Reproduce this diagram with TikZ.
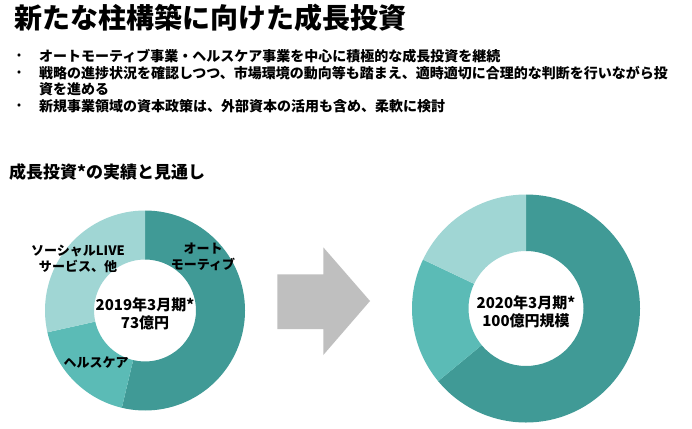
\documentclass[tikz,border=0pt]{standalone}
\usepackage{fontspec}
\setmainfont{Noto Sans CJK JP}
\newfontfamily\jp{Noto Sans CJK JP}
\definecolor{tealdark}{HTML}{409A96}
\definecolor{tealmid}{HTML}{5BBBB6}
\definecolor{teallight}{HTML}{A0D6D4}
\definecolor{arrowgray}{HTML}{BFBFBF}
\tikzset{
  bodytxt/.style={anchor=west,inner sep=0pt,font=\jp\fontsize{14}{16}\selectfont\bfseries},
  bulletdot/.style={anchor=center,inner sep=0pt,font=\jp\fontsize{10}{12}\selectfont\bfseries},
  lbl/.style={align=center,inner sep=0pt,font=\jp\fontsize{13}{16}\selectfont\bfseries},
  ctr/.style={align=center,inner sep=0pt,font=\jp\fontsize{15}{18}\selectfont\bfseries},
}
\usetikzlibrary{calc}
\begin{document}
\begin{tikzpicture}[x=1pt,y=1pt]
\useasboundingbox[fill=white] (0,0) rectangle (692,-428);
% title
\node[anchor=west,inner sep=0pt,font=\jp\fontsize{28}{32}\selectfont\bfseries] (title) at (14,-18) {新たな柱構築に向けた成長投資};
% bullets
\node[bulletdot] (b1) at (19,-56) {•};
\node[bodytxt] (t1) at (39,-56) {オートモーティブ事業・ヘルスケア事業を中心に積極的な成長投資を継続};
\node[bulletdot] (b2) at (19,-73) {•};
\node[bodytxt] (t2) at (39,-73) {戦略の進捗状況を確認しつつ、市場環境の動向等も踏まえ、適時適切に合理的な判断を行いながら投};
\node[bodytxt] (t3) at (39,-89.5) {資を進める};
\node[bulletdot] (b3) at (19,-106) {•};
\node[bodytxt] (t4) at (39,-106) {新規事業領域の資本政策は、外部資本の活用も含め、柔軟に検討};
% subtitle
\node[anchor=west,inner sep=0pt,font=\jp\fontsize{17}{20}\selectfont\bfseries] (sub) at (9,-172) {成長投資*の実績と見通し};
% left donut
\fill[tealdark] (145,-310.5) ++(90:100pt) arc[start angle=90,end angle=-103.4,radius=100pt]
  -- ($(145,-310.5)+(-103.4:51pt)$) arc[start angle=-103.4,end angle=90,radius=51pt] -- cycle;
\fill[tealmid] (145,-310.5) ++(-103.4:100pt) arc[start angle=-103.4,end angle=-167.4,radius=100pt]
  -- ($(145,-310.5)+(-167.4:51pt)$) arc[start angle=-167.4,end angle=-103.4,radius=51pt] -- cycle;
\fill[teallight] (145,-310.5) ++(-167.4:100pt) arc[start angle=-167.4,end angle=-270,radius=100pt]
  -- ($(145,-310.5)+(-270:51pt)$) arc[start angle=-270,end angle=-167.4,radius=51pt] -- cycle;
\node[lbl] (lsoc) at (78,-259) {ソーシャルLIVE\\サービス、他};
\node[lbl] (lauto) at (203,-256.5) {オート\\モーティブ};
\node[lbl] (lhealth) at (96,-363) {ヘルスケア};
\node[ctr] (lctr) at (145,-314) {2019年3月期*\\73億円};
% arrow
\node[coordinate] (arrtip) at (370,-301) {};
\fill[arrowgray] (277.3,-274.3) -- (323.3,-274.3) -- (323.3,-247.3) -- (arrtip) -- (323.3,-355) -- (323.3,-329) -- (277.3,-329) -- cycle;
% right donut
\fill[tealdark] (526,-308.5) ++(90:114pt) arc[start angle=90,end angle=-140.4,radius=114pt]
  -- ($(526,-308.5)+(-140.4:57.5pt)$) arc[start angle=-140.4,end angle=90,radius=57.5pt] -- cycle;
\fill[tealmid] (526,-308.5) ++(-140.4:114pt) arc[start angle=-140.4,end angle=-205.4,radius=114pt]
  -- ($(526,-308.5)+(-205.4:57.5pt)$) arc[start angle=-205.4,end angle=-140.4,radius=57.5pt] -- cycle;
\fill[teallight] (526,-308.5) ++(-205.4:114pt) arc[start angle=-205.4,end angle=-270,radius=114pt]
  -- ($(526,-308.5)+(-270:57.5pt)$) arc[start angle=-270,end angle=-205.4,radius=57.5pt] -- cycle;
\node[ctr] (rctr) at (526,-311.5) {2020年3月期*\\100億円規模};
\end{tikzpicture}
\end{document}
